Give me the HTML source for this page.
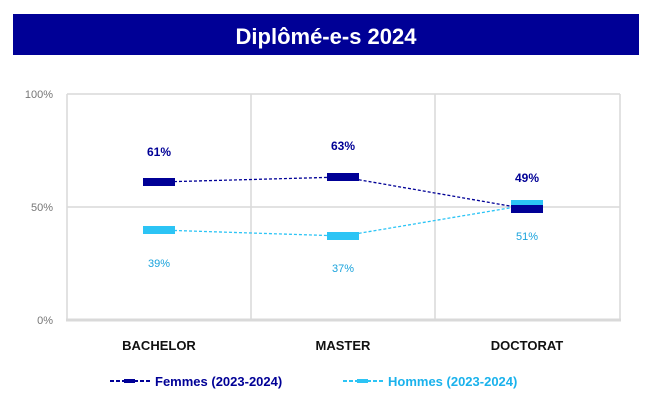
<!DOCTYPE html>
<html><head><meta charset="utf-8"><style>body{margin:0;background:#fff}svg{display:block}</style></head><body>
<svg width="659" height="414" xmlns="http://www.w3.org/2000/svg" font-family="Liberation Sans, sans-serif">
<rect width="659" height="414" fill="#fff"/>
<rect x="13" y="14" width="626" height="41" fill="#000096"/>
<text x="326" y="44" font-size="22" font-weight="bold" fill="#fff" text-anchor="middle">Diplômé-e-s 2024</text>
<g stroke="#d9d9d9" stroke-width="1.5" fill="none">
<line x1="67" y1="94" x2="620" y2="94"/><line x1="67" y1="207" x2="620" y2="207"/>
<line x1="67" y1="94" x2="67" y2="320"/><line x1="251" y1="94" x2="251" y2="320"/>
<line x1="435" y1="94" x2="435" y2="320"/><line x1="620" y1="94" x2="620" y2="320"/>
</g>
<line x1="66" y1="320" x2="621" y2="320" stroke="#d9d9d9" stroke-width="3"/>
<g font-size="11" fill="#767676" text-anchor="end">
<text x="53" y="98">100%</text><text x="53" y="211">50%</text><text x="53" y="324">0%</text>
</g>
<polyline points="159,182 343,177 527,209" fill="none" stroke="#000096" stroke-width="1.3" stroke-dasharray="3,2"/>
<polyline points="159,230 343,236 527,205" fill="none" stroke="#2cc4f5" stroke-width="1.3" stroke-dasharray="3,2"/>
<g fill="#2cc4f5"><rect x="143" y="226" width="32" height="8"/><rect x="327" y="232" width="32" height="8"/><rect x="511" y="200" width="32" height="9"/></g>
<g fill="#000096"><rect x="143" y="178" width="32" height="8"/><rect x="327" y="173" width="32" height="8"/><rect x="511" y="205" width="32" height="8"/></g>
<g font-size="12" font-weight="bold" fill="#000096" text-anchor="middle">
<text x="159" y="156">61%</text><text x="343" y="150">63%</text><text x="527" y="182">49%</text>
</g>
<g font-size="11" fill="#1aa3dc" text-anchor="middle">
<text x="159" y="267">39%</text><text x="343" y="272">37%</text><text x="527" y="240">51%</text>
</g>
<g font-size="13" font-weight="bold" fill="#111" text-anchor="middle">
<text x="159" y="350">BACHELOR</text><text x="343" y="350">MASTER</text><text x="527" y="350">DOCTORAT</text>
</g>
<line x1="110" y1="381" x2="150" y2="381" stroke="#000096" stroke-width="2" stroke-dasharray="4,2"/>
<rect x="124" y="379" width="11" height="4" fill="#000096"/>
<text x="155" y="386" font-size="13" font-weight="bold" fill="#000096">Femmes (2023-2024)</text>
<line x1="343" y1="381" x2="383" y2="381" stroke="#2cc4f5" stroke-width="2" stroke-dasharray="4,2"/>
<rect x="357" y="379" width="11" height="4" fill="#2cc4f5"/>
<text x="388" y="386" font-size="13" font-weight="bold" fill="#1ab2ec">Hommes (2023-2024)</text>
</svg>
</body></html>
